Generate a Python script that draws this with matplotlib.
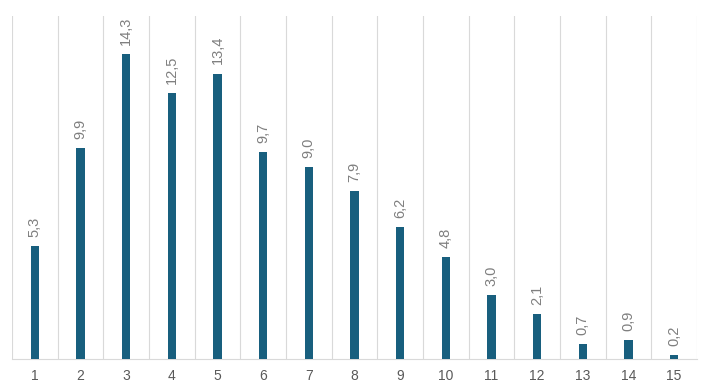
import matplotlib
matplotlib.use("Agg")
import matplotlib.pyplot as plt
import numpy as np

categories = [str(i) for i in range(1, 16)]
values = [5.3, 9.9, 14.3, 12.5, 13.4, 9.7, 9.0, 7.9, 6.2, 4.8, 3.0, 2.1, 0.7, 0.9, 0.2]

plt.rcParams['font.family'] = ['Liberation Sans', 'DejaVu Sans']

fig = plt.figure(figsize=(7.1, 3.9), dpi=100)
ax = fig.add_axes([12/710, 31/390, 685/710, 343/390])

x = np.arange(len(categories))
ax.bar(x, values, width=0.18, color='#185F7E', zorder=3)

ax.set_xlim(-0.5, len(categories) - 0.5)
ax.set_ylim(0, 16.1)

for b in np.arange(-0.5, len(categories), 1.0):
    ax.axvline(b, color='#D9D9D9', lw=0.8, zorder=1)

for xi, v in zip(x, values):
    ax.annotate(f"{v:.1f}".replace('.', ','), (xi, v), xytext=(0, 6.5),
                textcoords='offset points', rotation=90, ha='center', va='bottom',
                fontsize=10.5, color='#7F7F7F')

ax.set_xticks(x)
ax.set_xticklabels(categories, fontsize=10, color='#595959')
ax.tick_params(axis='x', length=0, pad=7)
ax.set_yticks([])
for s in ['top', 'left', 'right']:
    ax.spines[s].set_visible(False)
ax.spines['bottom'].set_color('#D9D9D9')
ax.spines['bottom'].set_linewidth(0.8)

fig.savefig('out.png', dpi=100)
